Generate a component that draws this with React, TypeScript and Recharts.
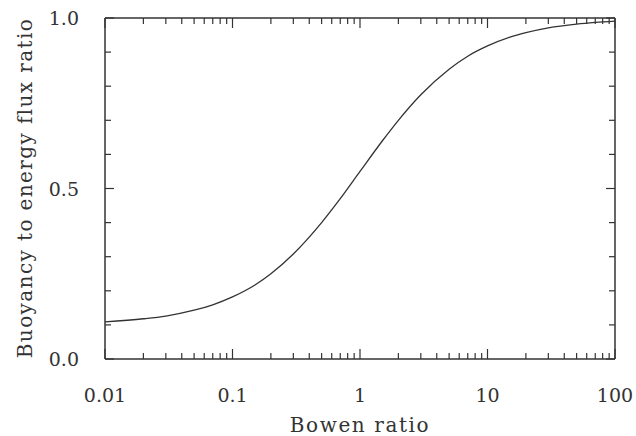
import React from 'react';
import { LineChart, Line, XAxis, YAxis } from 'recharts';

// Bowen ratio samples
const bowen = [0.01, 0.02, 0.03, 0.05, 0.07, 0.1, 0.15, 0.2, 0.3, 0.5, 0.7, 1, 1.5, 2, 3, 5, 7, 10, 15, 20, 30, 50, 70, 100];
const fluxRatio = [0.109, 0.118, 0.126, 0.143, 0.159, 0.182, 0.217, 0.25, 0.308, 0.4, 0.47, 0.55, 0.64, 0.7, 0.775, 0.85, 0.888, 0.918, 0.944, 0.957, 0.971, 0.982, 0.987, 0.991];

const decades = [0.01, 0.1, 1, 10];
const steps = [1, 2, 3, 4, 5, 6, 7, 8, 9];
const xMajor = [0.01, 0.1, 1, 10, 100];
const yTicks = [0, 0.1, 0.2, 0.3, 0.4, 0.5, 0.6, 0.7, 0.8, 0.9, 1];
const yMajor = [0, 0.5, 1];

const xTicks = [...decades.flatMap((d) => steps.map((s) => +(d * s).toPrecision(3))), 100];

const data = bowen.map((b, i) => ({ b, f: fluxRatio[i] }));

const INK = '#333';
const FONT = 'DejaVu Serif';

// layout
const W = 636;
const H = 436;
const MARGIN = { top: 16, right: 19, bottom: 0, left: 0 };
const TOP_AXIS_H = 2;
const BOTTOM_AXIS_H = 77;
const LEFT_AXIS_W = 105;
const RIGHT_AXIS_W = 2;
const PLOT_H = H - MARGIN.top - TOP_AXIS_H - BOTTOM_AXIS_H - MARGIN.bottom;
const PLOT_W = W - MARGIN.left - LEFT_AXIS_W - RIGHT_AXIS_W - MARGIN.right;

const isMajorX = (v: number) => xMajor.includes(v);
const isMajorY = (v: number) => yMajor.includes(v);

// bottom ticks point inward, mirrored on the top edge
const BottomTick = ({ x, y, payload }: any) => {
  const major = isMajorX(payload.value);
  const len = major ? 10 : 6;
  const top = y - PLOT_H;
  return (
    <g>
      <line x1={x} x2={x} y1={y} y2={y - len} stroke={INK} strokeWidth={1.2} />
      <line x1={x} x2={x} y1={top} y2={top + len} stroke={INK} strokeWidth={1.2} />
      {major && (
        <text x={x} y={y + 43} textAnchor="middle" fontFamily={FONT} fontSize={19} fill={INK}>
          {String(payload.value)}
        </text>
      )}
    </g>
  );
};

// left ticks point inward, mirrored on the right edge
const LeftTick = ({ x, y, payload }: any) => {
  const major = isMajorY(payload.value);
  const len = major ? 9 : 6;
  const right = x + PLOT_W;
  return (
    <g>
      <line x1={x} x2={x + len} y1={y} y2={y} stroke={INK} strokeWidth={1.2} />
      <line x1={right} x2={right - len} y1={y} y2={y} stroke={INK} strokeWidth={1.2} />
      {major && (
        <text x={x - 26} y={y + 7} textAnchor="end" fontFamily={FONT} fontSize={19} fill={INK}>
          {payload.value.toFixed(1)}
        </text>
      )}
    </g>
  );
};

const axisLine = { stroke: INK, strokeWidth: 1.5 };

export default function App() {
  return (
    <div style={{ position: 'absolute', left: 0, top: 0, width: W, height: H, background: '#fff' }}>
      <LineChart width={W} height={H} data={data} margin={MARGIN}>
        <XAxis
          xAxisId="b"
          dataKey="b"
          type="number"
          scale="log"
          domain={[0.01, 100]}
          allowDataOverflow
          ticks={xTicks}
          interval={0}
          height={BOTTOM_AXIS_H}
          tickSize={0}
          tickMargin={0}
          tickLine={false}
          axisLine={axisLine}
          tick={BottomTick}
          label={{
            content: () => (
              <text x={360} y={432} textAnchor="middle" fontFamily={FONT} fontSize={20} letterSpacing={1.6} fill={INK}>
                Bowen ratio
              </text>
            ),
          }}
        />
        <XAxis
          xAxisId="t"
          orientation="top"
          dataKey="b"
          type="number"
          scale="log"
          domain={[0.01, 100]}
          allowDataOverflow
          height={TOP_AXIS_H}
          tick={false}
          tickLine={false}
          axisLine={axisLine}
        />
        <YAxis
          yAxisId="l"
          type="number"
          domain={[0, 1]}
          ticks={yTicks}
          interval={0}
          width={LEFT_AXIS_W}
          tickSize={0}
          tickMargin={0}
          tickLine={false}
          axisLine={axisLine}
          tick={LeftTick}
          label={{
            content: () => (
              <text
                x={32}
                y={188}
                transform="rotate(-90, 32, 188)"
                textAnchor="middle"
                fontFamily={FONT}
                fontSize={20}
                letterSpacing={1.4}
                fill={INK}
              >
                Buoyancy to energy flux ratio
              </text>
            ),
          }}
        />
        <YAxis
          yAxisId="r"
          orientation="right"
          type="number"
          domain={[0, 1]}
          width={RIGHT_AXIS_W}
          tick={false}
          tickLine={false}
          axisLine={axisLine}
        />
        <Line
          xAxisId="b"
          yAxisId="l"
          dataKey="f"
          type="monotone"
          stroke={INK}
          strokeWidth={1.3}
          dot={false}
          isAnimationActive={false}
        />
      </LineChart>
    </div>
  );
}
